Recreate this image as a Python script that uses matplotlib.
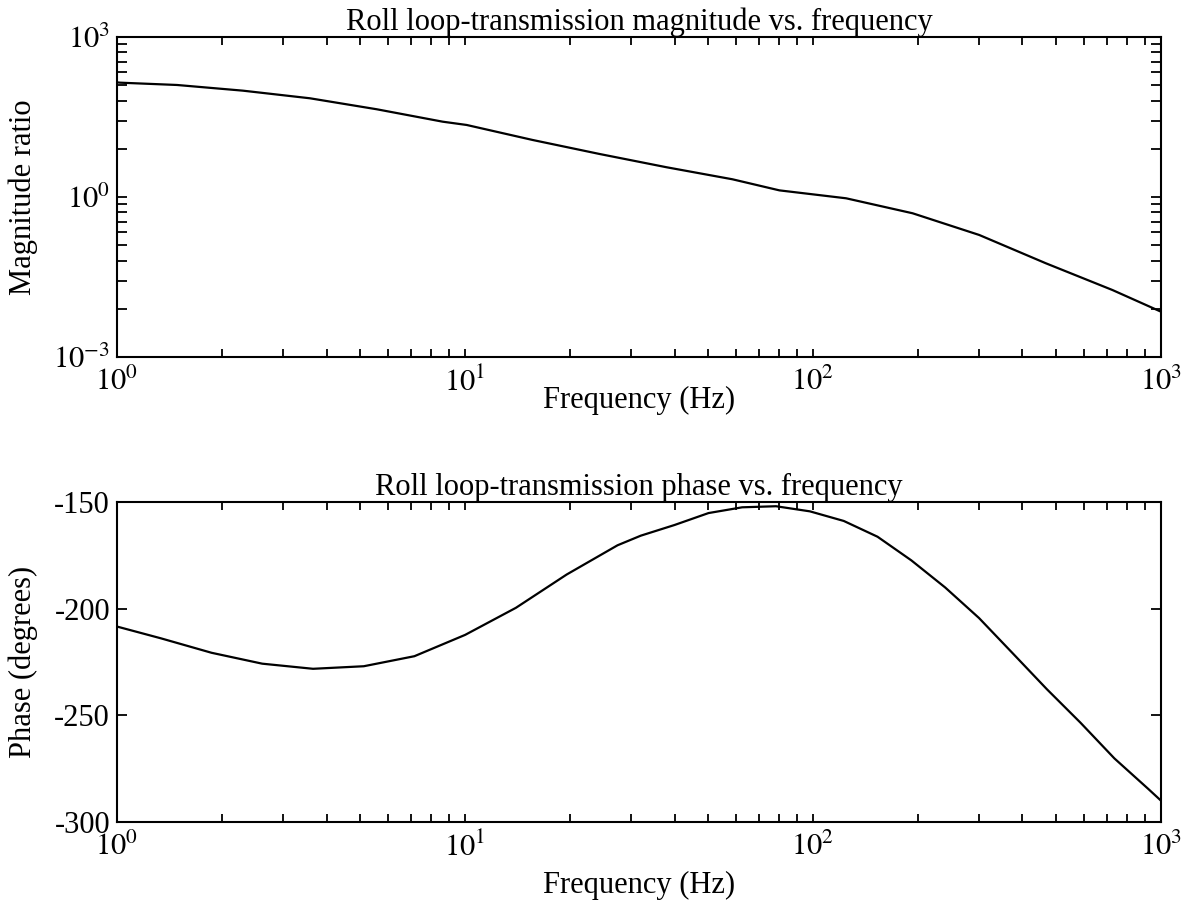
import numpy as np
import matplotlib
matplotlib.use("Agg")
import matplotlib.pyplot as plt
from matplotlib.ticker import FixedLocator, FixedFormatter, NullFormatter

plt.rcParams['font.family'] = ['Liberation Serif', 'DejaVu Serif']
plt.rcParams['mathtext.fontset'] = 'stix'
plt.rcParams['axes.unicode_minus'] = False

# magnitude curve
mag_freq = [1.0, 1.02, 1.487, 2.30, 3.583, 5.579, 8.63, 10.11, 15.64, 24.36,
            37.94, 58.69, 80.1, 124.5, 193.3, 300.4, 467, 725, 1000]
mag_val = [141, 139.1, 125.9, 98.5, 70.9, 44.1, 25.8, 22.4, 11.72, 6.40,
           3.61, 2.147, 1.33, 0.945, 0.495, 0.194, 0.0571, 0.01804, 0.00707]

# phase curve
ph_freq = [1.0, 1.336, 1.870, 2.614, 3.658, 5.118, 7.154, 10.01, 14.01, 19.60,
           27.44, 32.0, 40.0, 50.1, 62.6, 78.3, 98.0, 122.6, 153.3, 191.8,
           239.9, 300.0, 375.3, 469.6, 587.4, 734.8, 919.3, 1000]
ph_val = [-208.4, -213.9, -220.7, -225.8, -228.2, -227.0, -222.3, -212.3,
          -199.6, -184.0, -170.3, -165.8, -160.8, -155.2, -152.5, -152.0,
          -154.4, -158.9, -166.3, -177.4, -190.1, -204.4, -221.0, -237.7,
          -253.5, -270.2, -284.5, -290.0]

x_major = [1, 10, 100, 1000]
x_labels = ['$10^{0}$', '$10^{1}$', '$10^{2}$', '$10^{3}$']
mag_major = [1e-3, 1e0, 1e3]
mag_labels = ['$10^{\\mathrm{-3}}$', '$10^{0}$', '$10^{3}$']
ph_ticks = [-300, -250, -200, -150]
ph_labels = ['-300', '-250', '-200', '-150']

FS = 22


def style_x(ax):
    ax.set_xscale('log')
    ax.set_xlim(1, 1000)
    minors = [k * 10.0 ** d for d in range(0, 3) for k in range(2, 10)]
    ax.xaxis.set_major_locator(FixedLocator(x_major))
    ax.xaxis.set_major_formatter(FixedFormatter(x_labels))
    ax.xaxis.set_minor_locator(FixedLocator(minors))
    ax.xaxis.set_minor_formatter(NullFormatter())
    ax.tick_params(axis='x', which='both', direction='in', top=True,
                   length=6, width=1.3, labelsize=FS, pad=7.5)
    ax.tick_params(axis='y', which='both', direction='in', right=True,
                   length=7, width=1.3, labelsize=FS, pad=5)
    for s in ax.spines.values():
        s.set_linewidth(1.5)


fig = plt.figure(figsize=(11.82, 9.13), dpi=100)

# 上图：幅值
ax1 = fig.add_axes([0.099, 0.609, 0.8832, 0.3505])
ax1.plot(mag_freq, mag_val, color='black', lw=1.6)
style_x(ax1)
ax1.set_yscale('log')
ax1.set_ylim(1e-3, 1e3)
ax1.yaxis.set_major_locator(FixedLocator(mag_major))
ax1.yaxis.set_major_formatter(FixedFormatter(mag_labels))
ymin = [b * k ** 3 for b in (1e-3, 1e0) for k in range(2, 10)]
ax1.yaxis.set_minor_locator(FixedLocator(ymin))
ax1.yaxis.set_minor_formatter(NullFormatter())
ax1.set_title('Roll loop-transmission magnitude vs. frequency',
              fontsize=FS, pad=3.5)
ax1.set_xlabel('Frequency (Hz)', fontsize=FS)
ax1.set_ylabel('Magnitude ratio', fontsize=FS)
ax1.xaxis.set_label_coords(0.5, -0.09)
ax1.yaxis.set_label_coords(-0.0755, 0.5)

# 下图：相位
ax2 = fig.add_axes([0.099, 0.0997, 0.8832, 0.3505])
ax2.plot(ph_freq, ph_val, color='black', lw=1.6)
style_x(ax2)
ax2.set_ylim(-300, -150)
ax2.yaxis.set_major_locator(FixedLocator(ph_ticks))
ax2.yaxis.set_major_formatter(FixedFormatter(ph_labels))
ax2.set_title('Roll loop-transmission phase vs. frequency',
              fontsize=FS, pad=3.5)
ax2.set_xlabel('Frequency (Hz)', fontsize=FS)
ax2.set_ylabel('Phase (degrees)', fontsize=FS)
ax2.xaxis.set_label_coords(0.5, -0.152)
ax2.yaxis.set_label_coords(-0.0755, 0.5)

fig.savefig('out.png', dpi=100)
